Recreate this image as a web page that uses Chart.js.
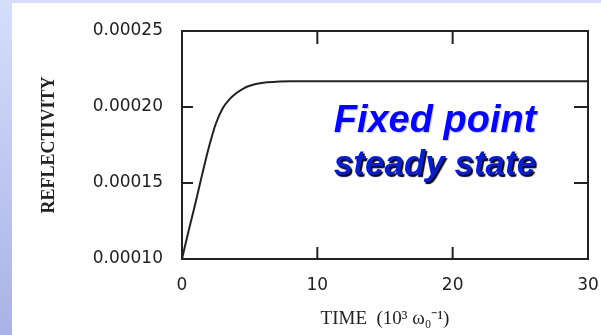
<!DOCTYPE html>
<html>
<head>
<meta charset="utf-8">
<script src="https://cdn.jsdelivr.net/npm/chart.js@4"></script>
<style>
  html, body { margin: 0; padding: 0; }
  body {
    width: 601px; height: 335px; position: relative; overflow: hidden;
    background: linear-gradient(#d6defc, #a9b2e6);
  }
  #panel { position: absolute; left: 12px; top: 3px; right: 0; bottom: 0; background: #fefefe; }
  #chart { position: absolute; left: 0; top: 0; }
  #note {
    position: absolute; left: 300px; width: 270px; top: 98px;
    text-align: center; font-family: "Liberation Sans", Arial, sans-serif;
    font-weight: bold; font-style: italic; line-height: 43px;
  }
  #note .l1 { font-size: 38px; color: #0606f2; text-shadow: 1px 1px 1px rgba(0,0,60,0.25); }
  #note .l2 { font-size: 35px; color: #0a1ec4; text-shadow: 1.5px 1.5px 1px #00002a; }
</style>
</head>
<body>
<div id="panel"></div>
<canvas id="chart" width="601" height="335"></canvas>
<div id="note"><div class="l1">Fixed point</div><div class="l2">steady state</div></div>
<script>
// DATI
const timeVals = [0, 0.5, 1, 1.5, 2, 2.5, 3, 3.5, 4, 4.5, 5, 6, 7, 8, 10, 15, 20, 25, 30];
const reflVals = [0.000100, 0.000119, 0.000137, 0.000156, 0.000174, 0.000189, 0.000199, 0.000205,
                  0.000209, 0.000212, 0.000214, 0.0002160, 0.0002166, 0.000217, 0.000217,
                  0.000217, 0.000217, 0.000217, 0.000217];
const xTicks = [0, 10, 20, 30];
const yTicks = [0.00010, 0.00015, 0.00020, 0.00025];

const ink = '#222';

// cornice + tacche interne
const framePlugin = {
    id: 'frame',
    afterDraw(chart) {
        const c = chart.ctx;
        const a = chart.chartArea;
        const xs = chart.scales.x;
        const ys = chart.scales.y;
        c.save();
        c.strokeStyle = ink;
        c.lineWidth = 2;
        c.strokeRect(a.left, a.top, a.right - a.left, a.bottom - a.top);
        c.beginPath();
        xTicks.slice(1, -1).forEach(v => {
            const px = xs.getPixelForValue(v);
            c.moveTo(px, a.top); c.lineTo(px, a.top + 13);
            c.moveTo(px, a.bottom); c.lineTo(px, a.bottom - 12);
        });
        yTicks.slice(1, -1).forEach(v => {
            const py = ys.getPixelForValue(v);
            c.moveTo(a.left, py); c.lineTo(a.left + 11, py);
            c.moveTo(a.right, py); c.lineTo(a.right - 14, py);
        });
        c.stroke();
        c.restore();
    }
};

const ctx = document.getElementById('chart').getContext('2d');
new Chart(ctx, {
    type: 'line',
    data: {
        datasets: [{
            data: timeVals.map((t, i) => ({ x: t, y: reflVals[i] })),
            borderColor: ink,
            borderWidth: 2,
            pointRadius: 0,
            cubicInterpolationMode: 'monotone',
            fill: false
        }]
    },
    options: {
        responsive: false,
        animation: false,
        layout: { padding: { top: 31, right: 13, left: 0, bottom: 0 } },
        plugins: { legend: { display: false }, tooltip: { enabled: false } },
        scales: {
            x: {
                type: 'linear', min: 0, max: 30,
                afterBuildTicks: s => { s.ticks = xTicks.map(v => ({ value: v })); },
                ticks: { padding: 16, maxRotation: 0, color: '#222',
                         font: { family: 'DejaVu Sans', size: 17 } },
                grid: { display: false, drawTicks: false },
                border: { display: false },
                title: { display: true, text: 'TIME  (10³ ω₀⁻¹)', color: '#222',
                         font: { family: 'Liberation Serif', size: 19 },
                         padding: { top: 0, bottom: 5 } },
                afterFit: s => { s.height = 76; s.paddingLeft = 0; s.paddingRight = 0; }
            },
            y: {
                min: 0.0001, max: 0.00025,
                afterBuildTicks: s => { s.ticks = yTicks.map(v => ({ value: v })); },
                ticks: { padding: 19, color: '#222', callback: v => v.toFixed(5),
                         font: { family: 'DejaVu Sans', size: 17 } },
                grid: { display: false, drawTicks: false },
                border: { display: false },
                title: { display: true, text: 'REFLECTIVITY', color: '#222',
                         font: { family: 'Liberation Serif', size: 18, weight: 'bold' },
                         padding: { top: 39, bottom: 0 } },
                afterFit: s => { s.width = 182; s.paddingTop = 0; s.paddingBottom = 0; }
            }
        }
    },
    plugins: [framePlugin]
});
</script>
</body>
</html>
